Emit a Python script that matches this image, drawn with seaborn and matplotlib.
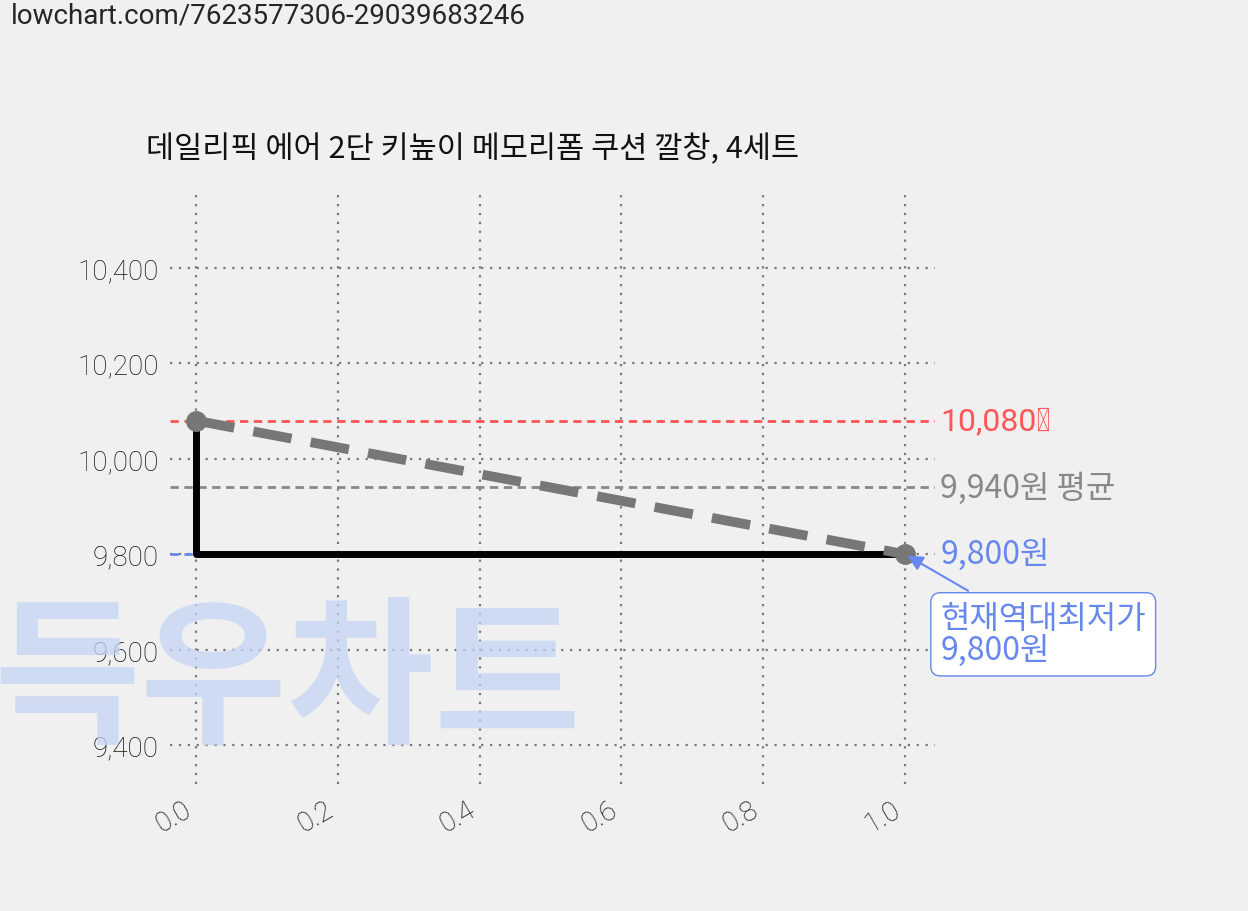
import matplotlib
matplotlib.use("Agg")
import matplotlib.pyplot as plt
import seaborn as sns

xs = [0.0, 1.0]
prices = [10080, 9800]
max_price = 10080
avg_price = 9940
min_price = 9800
title = "데일리픽 에어 2단 키높이 메모리폼 쿠션 깔창, 4세트"
url = "lowchart.com/7623577306-29039683246"

sns.set_theme(style="white")
plt.rcParams['font.family'] = ['Noto Sans CJK KR', 'DejaVu Sans']
fig = plt.figure(figsize=(12.48, 9.12), dpi=100, facecolor="#f0f0f0")
fig.text(-0.005, 0.16, "득우차트", fontsize=115, color="#c4d4f4", alpha=0.75,
         fontweight="black", va="bottom", zorder=0)
ax = fig.add_axes([0.136, 0.139, 0.613, 0.653])
ax.set_facecolor("none")
for s in ax.spines.values():
    s.set_visible(False)

ax.set_xlim(-0.037, 1.042)
ax.set_ylim(9318, 10566)
ax.set_yticks([9400, 9600, 9800, 10000, 10200, 10400])
ax.set_yticklabels(["9,400", "9,600", "9,800", "10,000", "10,200", "10,400"], fontsize=20, family="Roboto", fontweight="light", color="#111111")
ax.set_xticks([0, 0.2, 0.4, 0.6, 0.8, 1.0])
ax.set_xticklabels(["0.0", "0.2", "0.4", "0.6", "0.8", "1.0"], rotation=30, ha="right", fontsize=20, family="Roboto", fontweight="light", color="#111111")
ax.grid(True, linestyle=(0, (1, 3)), color="#777777", linewidth=1.6)
ax.tick_params(length=0, pad=8)

fig.text(0.009, 0.982, url, fontsize=20, family="Roboto", va="center")
fig.text(0.117, 0.836, title, fontsize=22, va="center", color="#111111")

ax.axhline(max_price, color="#ff5555", ls=(0, (3, 2)), lw=2)
ax.axhline(avg_price, color="#888888", ls=(0, (3, 2)), lw=2)
ax.plot([-0.037, 1.0], [min_price, min_price], color="#6688ee", ls=(0, (3, 2)), lw=2)
ax.plot(xs, prices, drawstyle="steps-pre", color="black", lw=5)
ax.plot(xs, prices, color="#777777", ls=(0, (4, 2)), lw=7, marker="o", ms=14)

ax.text(1.05, max_price, "10,080원", color="#ff5555", fontsize=23, va="center", family="Roboto")
ax.text(1.05, avg_price, "9,940원 평균", color="#888888", fontsize=23, va="center")
ax.text(1.05, min_price, "9,800원", color="#6688ee", fontsize=23, va="center")
ax.annotate("현재역대최저가\n9,800원", xy=(1.0, 9800), xytext=(1.05, 9565),
            color="#6688ee", fontsize=23, va="bottom", annotation_clip=False, linespacing=1.0,
            bbox=dict(boxstyle="round,pad=0.3", fc="white", ec="#6688ee"),
            arrowprops=dict(arrowstyle="-|>", color="#6688ee", lw=1.5))
fig.savefig("out.png", dpi=100, facecolor=fig.get_facecolor())
